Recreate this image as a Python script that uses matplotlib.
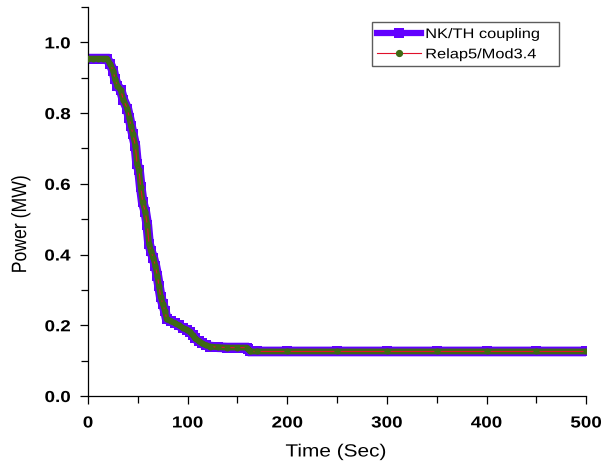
import matplotlib
matplotlib.use("Agg")
import matplotlib.pyplot as plt
from matplotlib.ticker import MultipleLocator
from matplotlib.patheffects import AbstractPathEffect
from matplotlib.transforms import Affine2D

plt.rcParams['font.family'] = ['Liberation Sans', 'DejaVu Sans']

time_s = [0, 5, 10, 15, 19, 22, 25.4, 27, 29.4, 32.8, 35.5, 39.5, 41.5, 43.2, 44.9,
          47.5, 49.2, 51.2, 52.9, 54.9, 57.5, 59.5, 61.2, 63.3, 65.6, 67.6, 69.6,
          71.3, 73, 75, 77.3, 79, 83, 87.3, 91, 95.7, 99, 102.4, 105, 107.4, 111,
          114.2, 118, 122.5, 130, 140, 150, 159.3, 161, 162.7, 170, 200, 250, 300,
          350, 400, 450, 500]
power_mw = [0.954, 0.954, 0.954, 0.954, 0.954, 0.940, 0.919, 0.897, 0.878, 0.865,
            0.838, 0.812, 0.787, 0.763, 0.742, 0.708, 0.657, 0.638, 0.591, 0.548,
            0.520, 0.484, 0.431, 0.409, 0.390, 0.368, 0.340, 0.310, 0.280, 0.261,
            0.239, 0.217, 0.212, 0.206, 0.200, 0.192, 0.188, 0.182, 0.172, 0.163,
            0.156, 0.149, 0.144, 0.140, 0.138, 0.137, 0.137, 0.137, 0.132, 0.126,
            0.126, 0.126, 0.126, 0.126, 0.126, 0.126, 0.126, 0.126]

x_ticks = [0, 100, 200, 300, 400, 500]
y_ticks = [0.0, 0.2, 0.4, 0.6, 0.8, 1.0]
series_labels = ['NK/TH coupling', 'Relap5/Mod3.4']

purple = '#6200ff'
green = '#3f6a14'
red = '#e0102a'
STRETCH = 1.18


class HStretch(AbstractPathEffect):
    """Stretch text horizontally (the reference image is widened)."""
    def __init__(self, sx, anchor='center'):
        super().__init__()
        self.sx = sx
        self.anchor = anchor

    def draw_path(self, renderer, gc, tpath, affine, rgbFace=None):
        ext = tpath.get_extents(affine)
        if self.anchor == 'right':
            cx = ext.x1
        elif self.anchor == 'left':
            cx = ext.x0
        else:
            cx = 0.5 * (ext.x0 + ext.x1)
        new = affine + Affine2D().translate(-cx, 0).scale(self.sx, 1).translate(cx, 0)
        renderer.draw_path(gc, tpath, new, rgbFace)


fig = plt.figure(figsize=(6.03, 4.70), dpi=100)
ax = fig.add_axes([0.146, 0.1574, 0.826, 0.8277])

ax.plot(time_s, power_mw, color=purple, lw=7.0, marker='s', ms=7.0, mew=0,
        mfc=purple, solid_joinstyle='miter', zorder=2)
ax.plot(time_s, power_mw, color=green, lw=4.2, zorder=3)
ax.plot(time_s, power_mw, color=red, lw=0.8, zorder=4)
ax.plot(time_s, power_mw, color=green, lw=0, marker='o', ms=4.4, mew=0, zorder=5)

# legend handles
h1, = ax.plot([], [], color=purple, lw=4.5, marker='s', ms=7.5, mew=0,
              label=series_labels[0])
h2, = ax.plot([], [], color=red, lw=0.8, marker='o', ms=4.2, mfc=green, mec=green,
              label=series_labels[1])
leg = ax.legend(handles=[h1, h2], loc='upper left',
                bbox_to_anchor=(0.570, 0.843, 0.376, 0.118), mode='expand',
                frameon=True, fancybox=False, edgecolor='#333333', fontsize=10,
                handlelength=3.2, handletextpad=0.3, borderpad=0.35,
                labelspacing=0.45, borderaxespad=0.0)
leg.get_frame().set_linewidth(1.0)
for t in leg.get_texts():
    t.set_path_effects([HStretch(STRETCH, 'left')])

ax.set_xlim(0, 500)
ax.set_ylim(0, 1.1)
ax.set_xticks(x_ticks)
ax.set_yticks(y_ticks)
ax.set_xticklabels([str(v) for v in x_ticks], fontweight='bold', fontsize=11.5)
ax.set_yticklabels([f'{v:.1f}' for v in y_ticks], fontweight='bold', fontsize=11.5)
ax.xaxis.set_minor_locator(MultipleLocator(50))
ax.yaxis.set_minor_locator(MultipleLocator(0.1))
ax.tick_params(which='major', direction='out', length=6, width=0.9)
ax.tick_params(which='minor', direction='out', length=5, width=0.9)
ax.tick_params(axis='x', which='major', pad=8)
ax.tick_params(axis='y', which='major', pad=6.5)
for s in ['top', 'right']:
    ax.spines[s].set_visible(False)
for s in ['left', 'bottom']:
    ax.spines[s].set_linewidth(0.9)

for t in ax.get_xticklabels():
    t.set_path_effects([HStretch(STRETCH, 'center')])
for t in ax.get_yticklabels():
    t.set_path_effects([HStretch(STRETCH, 'right')])

xl = ax.set_xlabel('Time (Sec)', fontsize=12.7)
yl = ax.set_ylabel('Power (MW)', fontsize=12.7)
xl.set_path_effects([HStretch(STRETCH, 'center')])
yl.set_path_effects([HStretch(STRETCH, 'center')])
ax.xaxis.set_label_coords(0.4976, -0.122)
ax.yaxis.set_label_coords(-0.118, 0.442)

fig.savefig('out.png', dpi=100)
